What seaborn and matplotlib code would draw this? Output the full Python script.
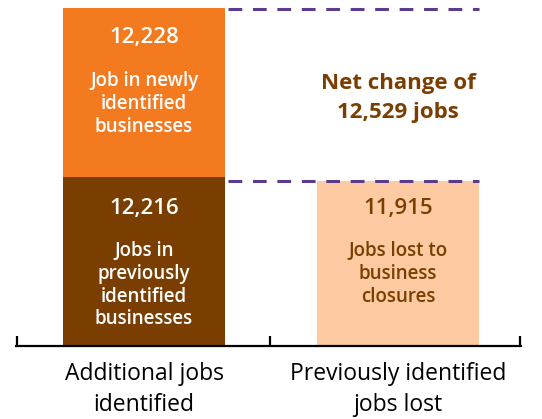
import matplotlib
matplotlib.use('Agg')
import matplotlib.pyplot as plt
import seaborn as sns
import pandas as pd

# ---- data ----
categories = ["Additional jobs\nidentified", "Previously identified\njobs lost"]
previously_identified = 12216     # brown, bottom of left bar
newly_identified = 12228          # orange, top of left bar
jobs_lost = 11915                 # peach, right bar
net_change = newly_identified + previously_identified - jobs_lost

segment_numbers = ["12,228", "12,216", "11,915"]
segment_labels = ["Job in newly\nidentified\nbusinesses",
                  "Jobs in\npreviously\nidentified\nbusinesses",
                  "Jobs lost to\nbusiness\nclosures"]

ORANGE = "#F47A20"
BROWN = "#7A3E00"
PEACH = "#FDCAA1"
PURPLE = "#5B3C8C"

sns.set_theme(style="white")
plt.rcParams['font.family'] = ['Open Sans', 'DejaVu Sans']

fig = plt.figure(figsize=(5.42, 4.19), dpi=100)
W, H = 542, 419
ax = fig.add_axes([16 / W, (H - 345.5) / H, 505 / W, 337.5 / H])

bar_w = 0.638
totals = pd.DataFrame({"cat": categories,
                       "val": [previously_identified + newly_identified, jobs_lost]})
bottoms = pd.DataFrame({"cat": categories, "val": [previously_identified, 0]})

sns.barplot(data=totals, x="cat", y="val", hue="cat", palette=[ORANGE, PEACH],
            width=bar_w, saturation=1, legend=False, ax=ax, linewidth=0)
sns.barplot(data=bottoms, x="cat", y="val", hue="cat", palette=[BROWN, BROWN],
            width=bar_w, saturation=1, legend=False, ax=ax, linewidth=0)

total_left = previously_identified + newly_identified
ax.set_xlim(-0.504, 1.484)
ax.set_ylim(0, total_left)

# dashed guide lines
x0, x1 = bar_w / 2, 1 + bar_w / 2
ax.plot([x0 + 0.01, x1], [total_left - 80] * 2, color=PURPLE, lw=2.2,
        dashes=(4.5, 3.5), solid_capstyle='butt', clip_on=False)
ax.plot([x0 + 0.01, x1], [jobs_lost] * 2, color=PURPLE, lw=2.2,
        dashes=(4.5, 3.5), solid_capstyle='butt', clip_on=False)

# text inside bars
def to_y(px):
    return (345.5 - px) / 337.5 * total_left

num_kw = dict(fontsize=16, fontweight="semibold", ha="center", va="center")
lab_kw = dict(fontsize=13.5, fontweight="semibold", ha="center", va="center",
              linespacing=1.2)
ax.text(0, to_y(37), segment_numbers[0], color="white", **num_kw)
ax.text(0, to_y(104), segment_labels[0], color="white", **lab_kw)
ax.text(0, to_y(208), segment_numbers[1], color="white", **num_kw)
ax.text(0, to_y(285), segment_labels[1], color="white", **lab_kw)
ax.text(1, to_y(208), segment_numbers[2], color=BROWN, **num_kw)
ax.text(1, to_y(274), segment_labels[2], color=BROWN, **lab_kw)
ax.text(1, to_y(98), f"Net change of\n{net_change:,} jobs", color=BROWN,
        fontsize=16, fontweight="bold", ha="center", va="center",
        linespacing=1.45)

# axes styling
sns.despine(ax=ax, left=True, top=True, right=True)
ax.spines['bottom'].set_linewidth(1.6)
ax.spines['bottom'].set_color("black")
ax.set_yticks([])
ax.set_xlabel("")
ax.set_ylabel("")
ax.set_xticks([0, 1])
ax.set_xticklabels(categories, fontsize=16.5, color="black", linespacing=1.37)
ax.tick_params(axis='x', which='major', length=0, pad=12)
ax.set_xticks([-0.502, 0.497, 1.482], minor=True)
ax.tick_params(axis='x', which='minor', direction='in', length=7, width=1.6,
               color="black", bottom=True)

fig.savefig("out.png", dpi=100)
